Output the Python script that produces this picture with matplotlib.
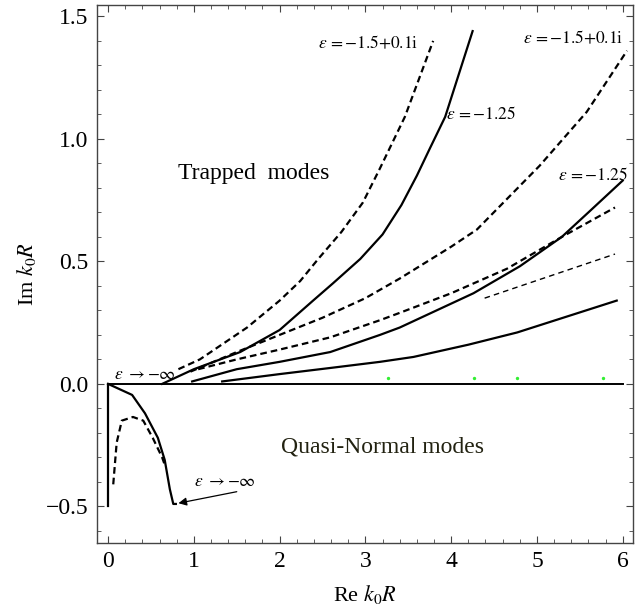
import numpy as np
import matplotlib
matplotlib.use("Agg")
import matplotlib.pyplot as plt
from matplotlib.ticker import MultipleLocator, FuncFormatter

plt.rcParams['font.family'] = ['Liberation Serif', 'DejaVu Serif']
plt.rcParams['mathtext.fontset'] = 'stix'

# trapped modes (upper half plane)
a_x = [0.82, 1.07, 1.62, 2.0, 2.24, 2.45, 2.72, 2.97, 3.17, 3.46, 3.79]
a_y = [0.06, 0.10, 0.23, 0.34, 0.42, 0.51, 0.62, 0.74, 0.88, 1.09, 1.40]
b_x = [0.63, 1.0, 1.54, 2.0, 2.39, 2.62, 2.94, 3.2, 3.42, 3.6, 3.75, 3.93, 4.25]
b_y = [0.0, 0.06, 0.13, 0.22, 0.34, 0.41, 0.51, 0.61, 0.73, 0.85, 0.96, 1.09, 1.44]
c_x = [0.96, 1.5, 2.0, 2.5, 3.0, 3.4, 4.0, 4.3, 5.03, 5.58, 6.05]
c_y = [0.05, 0.13, 0.20, 0.27, 0.35, 0.43, 0.56, 0.63, 0.89, 1.11, 1.36]
d_x = [1.05, 1.5, 2.0, 2.59, 3.17, 3.4, 4.0, 4.65, 5.29, 5.91]
d_y = [0.06, 0.10, 0.14, 0.19, 0.26, 0.29, 0.37, 0.47, 0.60, 0.72]
e_x = [0.98, 1.5, 2.0, 2.59, 3.17, 3.4, 4.26, 4.8, 5.29, 5.6, 6.0]
e_y = [0.01, 0.06, 0.09, 0.13, 0.20, 0.23, 0.37, 0.48, 0.60, 0.70, 0.83]
f_x = [1.33, 2.0, 2.59, 3.17, 3.56, 4.2, 4.77, 5.93]
f_y = [0.01, 0.04, 0.065, 0.09, 0.11, 0.16, 0.21, 0.34]
g_x = [4.39, 5.91]
g_y = [0.35, 0.53]

# quasi-normal modes (lower half plane)
q_x = [0.0, 0.28, 0.43, 0.58, 0.66, 0.72, 0.76, 0.79]
q_y = [0.0, -0.045, -0.12, -0.22, -0.31, -0.43, -0.49, -0.49]
v_x = [0.0, 0.0]
v_y = [0.0, -0.5]
qd_x = [0.06, 0.10, 0.16, 0.29, 0.41, 0.52, 0.63, 0.66]
qd_y = [-0.41, -0.24, -0.15, -0.135, -0.15, -0.22, -0.30, -0.33]

zero_x = [0.0, 6.0]
zero_y = [0.0, 0.0]
green_x = [3.26, 4.27, 4.77, 5.77]
green_y = [0.025, 0.025, 0.025, 0.025]

fig = plt.figure(figsize=(6.42, 6.10), dpi=100)
ax = fig.add_axes([0.151, 0.110, 0.835, 0.882])

dash = (0, (3.0, 1.8))
lw = 1.6
ax.plot(zero_x, zero_y, color='k', lw=1.4)
ax.plot(a_x, a_y, color='k', lw=lw, ls=dash)
ax.plot(b_x, b_y, color='k', lw=lw)
ax.plot(c_x, c_y, color='k', lw=lw, ls=dash)
ax.plot(d_x, d_y, color='k', lw=lw, ls=dash)
ax.plot(e_x, e_y, color='k', lw=lw)
ax.plot(f_x, f_y, color='k', lw=lw)
ax.plot(g_x, g_y, color='k', lw=1.0, ls=(0, (4, 3)))
ax.plot(q_x, q_y, color='k', lw=lw)
ax.plot(v_x, v_y, color='k', lw=lw)
ax.plot(qd_x, qd_y, color='k', lw=lw, ls=dash)
ax.scatter(green_x, green_y, s=2, color='#33ee33', zorder=3)

ax.text(1.70, 0.86, 'Trapped  modes', fontsize=17, ha='center', va='center')
ax.text(3.2, -0.257, 'Quasi-Normal modes', fontsize=17, ha='center', va='center', color='#222211')
lab = 12.5
eps125 = r'$\varepsilon\,\mathrm{=}{-}\mathrm{1.25}$'
eps15 = r'$\varepsilon\,\mathrm{=}{-}\mathrm{1.5{+}0.1i}$'
einf = r'$\varepsilon\ \rightarrow{-}\infty$'
ax.text(3.03, 1.39, eps15, fontsize=lab, ha='center', va='center')
ax.text(4.35, 1.10, eps125, fontsize=lab, ha='center', va='center')
ax.text(5.42, 1.41, eps15, fontsize=lab, ha='center', va='center')
ax.text(5.65, 0.85, eps125, fontsize=lab, ha='center', va='center')
ax.text(0.43, 0.035, einf, fontsize=lab, ha='center', va='center')
ax.text(1.36, -0.40, einf, fontsize=lab, ha='center', va='center')
ax.annotate('', xy=(0.82, -0.487), xytext=(1.50, -0.44),
            arrowprops=dict(arrowstyle='-|>', color='k', lw=0.9,
                            shrinkA=0, shrinkB=0, mutation_scale=12))

ax.set_xlim(-0.13, 6.12)
ax.set_ylim(-0.649, 1.547)
ax.xaxis.set_major_locator(MultipleLocator(1))
ax.xaxis.set_minor_locator(MultipleLocator(0.2))
ax.yaxis.set_major_locator(MultipleLocator(0.5))
ax.yaxis.set_minor_locator(MultipleLocator(0.1))
ax.yaxis.set_major_formatter(FuncFormatter(lambda v, p: ('%.1f' % v).replace('-', '−')))
ax.tick_params(which='both', direction='in', top=True, right=True, color='#444444')
ax.tick_params(which='major', length=5, labelsize=17, pad=6)
ax.tick_params(which='minor', length=3)
for s in ax.spines.values():
    s.set_color('#444444')
    s.set_linewidth(1.0)
ax.set_xlabel(r'Re $k_0R$', fontsize=16, labelpad=8)
ax.set_ylabel(r'Im $k_0R$', fontsize=16, labelpad=6)

fig.savefig('out.png', dpi=100)
